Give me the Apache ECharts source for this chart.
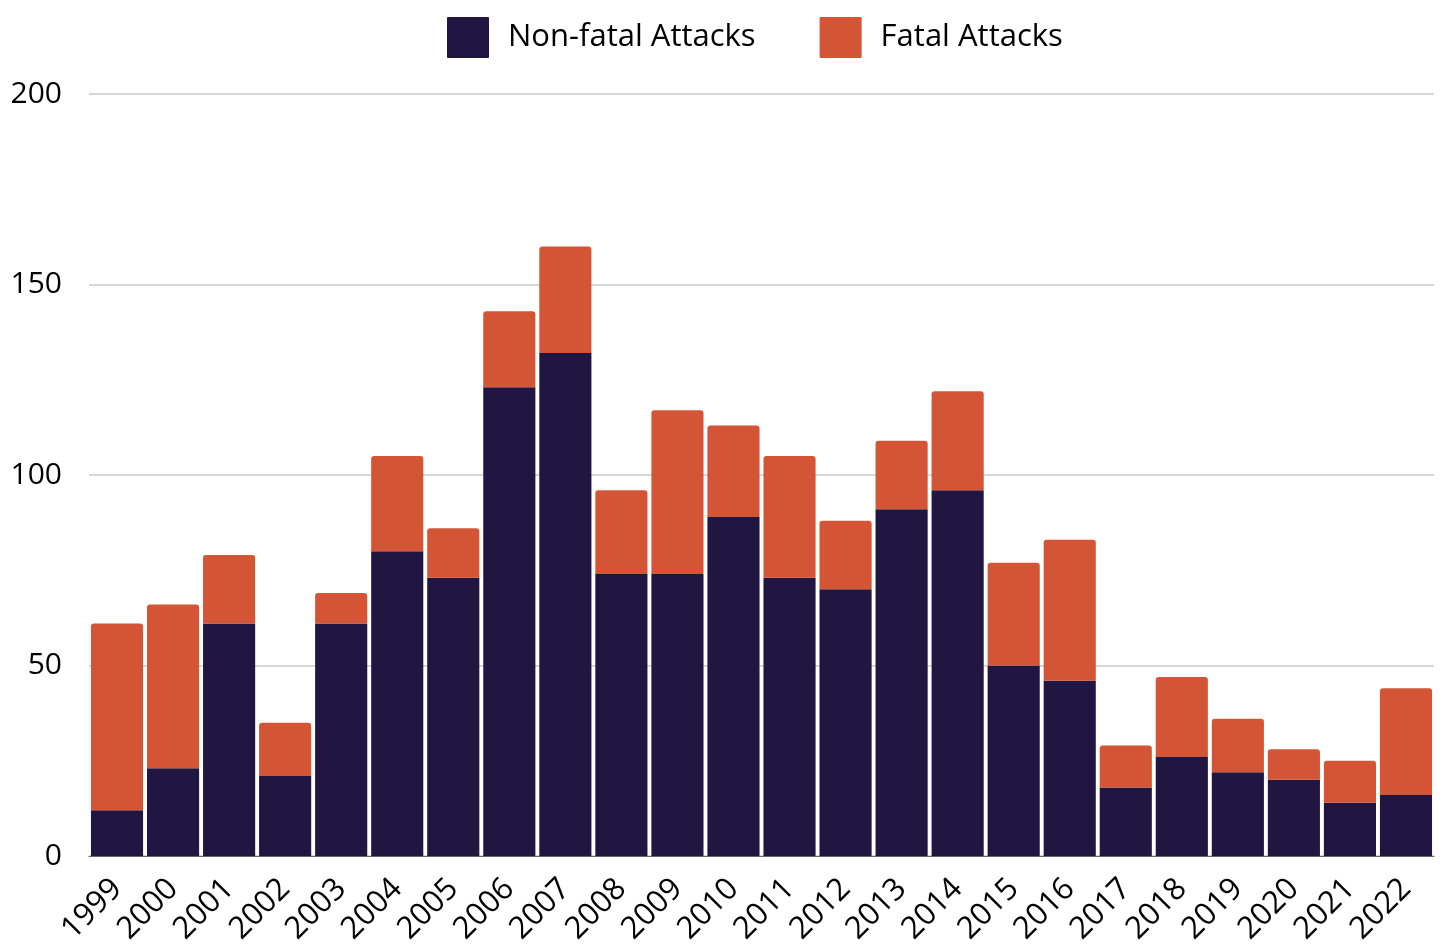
<!DOCTYPE html>
<html>
<head>
<meta charset="utf-8">
<script src="https://cdn.jsdelivr.net/npm/echarts@6/dist/echarts.min.js"></script>
<style>
  html, body { margin: 0; padding: 0; background: #fff; }
  #chart { width: 1442px; height: 947px; }
</style>
</head>
<body>
<div id="chart"></div>
<script>
const years = ['1999', '2000', '2001', '2002', '2003', '2004', '2005', '2006', '2007', '2008', '2009', '2010',
  '2011', '2012', '2013', '2014', '2015', '2016', '2017', '2018', '2019', '2020', '2021', '2022']
const nonFatal = [12, 23, 61, 21, 61, 80, 73, 123, 132, 74, 74, 89, 73, 70, 91, 96, 50, 46, 18, 26, 22, 20, 14, 16]
const fatal = [49, 43, 18, 14, 8, 25, 13, 20, 28, 22, 43, 24, 32, 18, 18, 26, 27, 37, 11, 21, 14, 8, 11, 28]

const font = '"Open Sans", sans-serif'
const chart = echarts.init(document.getElementById('chart'))

chart.setOption({
  backgroundColor: '#fff',
  textStyle: { fontFamily: font },
  legend: {
    top: 12,
    left: 442,
    itemWidth: 42,
    itemHeight: 41,
    itemGap: 64,
    icon: 'path://M1,0 L41,0 Q42,0 42,1 L42,40 Q42,41 41,41 L1,41 Q0,41 0,40 L0,1 Q0,0 1,0 Z',
    textStyle: { fontSize: 31, color: '#000', fontFamily: font, padding: [0, 0, 0, 14] },
    data: ['Non-fatal Attacks', 'Fatal Attacks']
  },
  grid: { left: 89, right: 8, top: 94, bottom: 91, outerBoundsMode: 'none', containLabel: false },
  xAxis: {
    type: 'category',
    data: years,
    axisLine: { lineStyle: { color: '#666', width: 1 } },
    axisTick: { show: false },
    axisLabel: { rotate: 45, fontSize: 31, color: '#000', margin: 28, interval: 0, padding: [17, 0, 0, 0] }
  },
  yAxis: {
    type: 'value',
    min: 0,
    max: 200,
    interval: 50,
    axisLine: { show: false },
    axisTick: { show: false },
    axisLabel: { fontSize: 30, color: '#000', margin: 27 },
    splitLine: { lineStyle: { color: '#c8c8c8', width: 1.5 } }
  },
  series: [
    {
      name: 'Non-fatal Attacks',
      type: 'bar',
      stack: 'total',
      data: nonFatal,
      barCategoryGap: '7%',
      itemStyle: { color: '#211542' }
    },
    {
      name: 'Fatal Attacks',
      type: 'bar',
      stack: 'total',
      data: fatal,
      itemStyle: { color: '#d35536', borderRadius: [3, 3, 0, 0] }
    }
  ]
})
</script>
</body>
</html>
